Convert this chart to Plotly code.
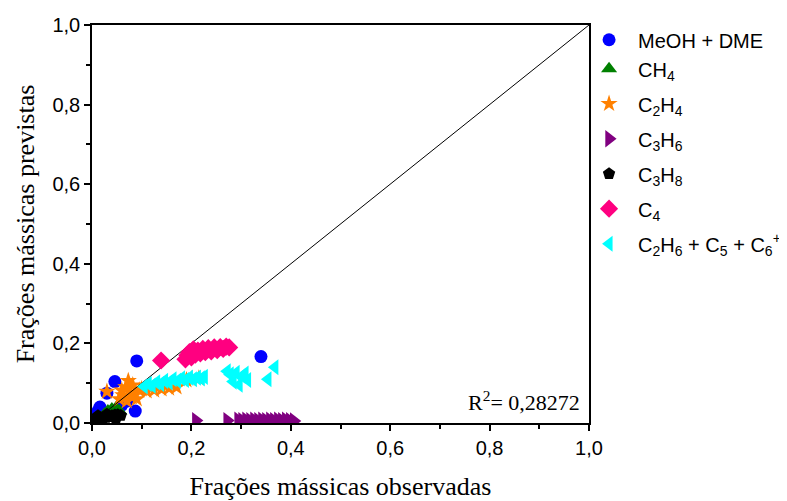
import plotly.graph_objects as go

# ---- data ----
meoh_x = [0.006, 0.012, 0.016, 0.030, 0.046, 0.060, 0.070, 0.087, 0.090, 0.340]
meoh_y = [0.020, 0.030, 0.040, 0.075, 0.104, 0.045, 0.055, 0.030, 0.156, 0.167]

ch4_x = [0.004, 0.010, 0.018, 0.025, 0.032, 0.040, 0.048, 0.055]
ch4_y = [0.002, 0.006, 0.012, 0.022, 0.030, 0.035, 0.038, 0.030]

c2h4_x = [0.030, 0.055, 0.060, 0.062, 0.068, 0.070, 0.073, 0.076, 0.080, 0.082, 0.086,
          0.090, 0.095, 0.100, 0.110, 0.125, 0.140, 0.155, 0.170, 0.190, 0.200, 0.215]
c2h4_y = [0.079, 0.060, 0.082, 0.070, 0.090, 0.055, 0.106, 0.078, 0.065, 0.095, 0.072,
          0.060, 0.082, 0.085, 0.080, 0.082, 0.085, 0.087, 0.090, 0.108, 0.110, 0.112]

c3h6_x = [0.209, 0.272, 0.294, 0.302, 0.310, 0.318, 0.326, 0.334, 0.342, 0.350, 0.358,
          0.366, 0.374, 0.382, 0.390, 0.398, 0.406]
c3h6_y = [0.006, 0.006, 0.007, 0.006, 0.007, 0.006, 0.007, 0.006, 0.007, 0.006, 0.007,
          0.006, 0.007, 0.006, 0.007, 0.006, 0.005]

c3h8_x = [0.004, 0.010, 0.016, 0.022, 0.028, 0.034, 0.040, 0.046, 0.052, 0.058, 0.012, 0.030, 0.048]
c3h8_y = [0.006, 0.008, 0.010, 0.012, 0.014, 0.016, 0.018, 0.020, 0.021, 0.019, 0.018, 0.022, 0.010]

c4_x = [0.139, 0.188, 0.192, 0.196, 0.200, 0.204, 0.208, 0.213, 0.218, 0.223, 0.228,
        0.234, 0.240, 0.246, 0.252, 0.258, 0.264, 0.270, 0.276]
c4_y = [0.157, 0.160, 0.170, 0.178, 0.165, 0.185, 0.172, 0.182, 0.175, 0.186, 0.178,
        0.188, 0.180, 0.190, 0.183, 0.191, 0.186, 0.192, 0.190]

c5_x = [0.105, 0.113, 0.121, 0.130, 0.138, 0.146, 0.155, 0.163, 0.172, 0.180, 0.188, 0.196,
        0.204, 0.212, 0.220, 0.226, 0.272, 0.278, 0.284, 0.290, 0.296, 0.302, 0.308, 0.313,
        0.354, 0.368]
c5_y = [0.092, 0.098, 0.094, 0.102, 0.098, 0.106, 0.102, 0.110, 0.106, 0.112, 0.108, 0.114,
        0.110, 0.114, 0.112, 0.116, 0.130, 0.122, 0.104, 0.126, 0.096, 0.118, 0.124, 0.108,
        0.110, 0.140]

diag = [0.0, 1.0]

tick_vals = [0.0, 0.2, 0.4, 0.6, 0.8, 1.0]
tick_text = ["0,0", "0,2", "0,4", "0,6", "0,8", "1,0"]

r2_text = "R<sup>2</sup>= 0,28272"
x_title = "Frações mássicas observadas"
y_title = "Frações mássicas previstas"

SANS = "Liberation Sans, Arial, sans-serif"
SERIF = "Liberation Serif, Times New Roman, serif"

fig = go.Figure()

def add(x, y, name, symbol, color, size, group):
    fig.add_trace(go.Scatter(
        x=x, y=y, mode="markers", name=name, legendgroup=group,
        marker=dict(symbol=symbol, color=color, size=size, line=dict(width=0)),
    ))

add(meoh_x, meoh_y, "MeOH + DME", "circle", "#0000FF", 13, "g1")
add(ch4_x, ch4_y, "CH<sub>4</sub>", "triangle-up", "#008000", 14, "g1")
add(c2h4_x, c2h4_y, "C<sub>2</sub>H<sub>4</sub>", "star", "#FF8000", 13, "g3")
fig.add_trace(go.Scatter(x=diag, y=diag, mode="lines", showlegend=False,
                         line=dict(color="black", width=1), hoverinfo="skip"))
add(c3h6_x, c3h6_y, "C<sub>3</sub>H<sub>6</sub>", "triangle-right", "#800080", 15, "g4")
add(c3h8_x, c3h8_y, "C<sub>3</sub>H<sub>8</sub>", "pentagon", "#000000", 13, "g5")
add(c4_x, c4_y, "C<sub>4</sub>", "diamond", "#FF0080", 14, "g6")
add(c5_x, c5_y, "C<sub>2</sub>H<sub>6</sub> + C<sub>5</sub> + C<sub>6</sub><sup>+</sup>",
    "triangle-left", "#00FFFF", 14, "g7")

axis_common = dict(
    range=[0, 1], tickvals=tick_vals, ticktext=tick_text, automargin=False,
    ticks="outside", ticklen=6, tickwidth=1.5, tickcolor="black",
    showline=True, linecolor="black", linewidth=1.5, mirror=True,
    showgrid=False, zeroline=False,
    tickfont=dict(family=SANS, size=20, color="black"),
    minor=dict(dtick=0.1, ticks="outside", ticklen=4, tickwidth=1.5, tickcolor="black", showgrid=False),
)

fig.update_layout(
    width=779, height=493,
    margin=dict(l=84, r=198, t=17, b=78, autoexpand=False),
    plot_bgcolor="white", paper_bgcolor="white",
    xaxis=dict(**axis_common, title=dict(text=x_title, font=dict(family=SERIF, size=26, color="black"), standoff=24)),
    yaxis=dict(**axis_common, title=dict(text=y_title, font=dict(family=SERIF, size=26, color="black"), standoff=10)),
    legend=dict(x=0.982, y=1.012, xanchor="left", yanchor="top",
                font=dict(family=SANS, size=20, color="black"), itemwidth=48,
                bgcolor="rgba(0,0,0,0)", tracegroupgap=6),
    showlegend=True,
    annotations=[dict(x=0.985, y=0.056, xref="x", yref="y", text=r2_text, showarrow=False,
                      xanchor="right", yanchor="middle",
                      font=dict(family=SERIF, size=22, color="black"))],
)

fig.write_html("out.html")
